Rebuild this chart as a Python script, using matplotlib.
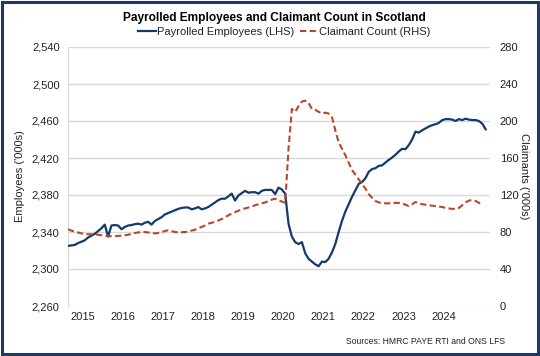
import numpy as np
import matplotlib
matplotlib.use('Agg')
import matplotlib.pyplot as plt
from matplotlib.lines import Line2D
from matplotlib.patches import Rectangle

plt.rcParams['font.family'] = ['Liberation Sans', 'DejaVu Sans']

# =====================================================================
# DATA (monthly, from Jul 2014)
# =====================================================================
# Payrolled employees, Scotland ('000s), LHS
employees = [
    2325, 2325.5, 2326, 2328, 2329.5, 2331, 2334, 2336, 2338, 2341,
    2344, 2348, 2335, 2347, 2347.5, 2347, 2343, 2345.5, 2347, 2347.5,
    2348.5, 2349, 2348, 2350, 2351, 2348, 2352, 2354, 2356, 2359,
    2360.5, 2362, 2363.5, 2365, 2366, 2366.5, 2366.5, 2364.5, 2365.5, 2367,
    2364.5, 2365.5, 2367, 2369.5, 2372, 2374.5, 2376, 2376, 2378.5, 2381.5,
    2374, 2379.5, 2382, 2384.5, 2382.5, 2383, 2383, 2381.5, 2384.5, 2385.5,
    2385.5, 2385.5, 2381, 2388, 2386, 2381.5, 2349, 2335, 2329, 2327,
    2329, 2317, 2311, 2308, 2305, 2303, 2308, 2307.5, 2311, 2318,
    2327, 2340, 2352, 2362, 2370, 2378, 2385, 2392, 2394, 2398,
    2405, 2408, 2409, 2411.5, 2412, 2415, 2418, 2420.5, 2423.5, 2427,
    2430, 2429.5, 2434, 2440, 2448.5, 2447.5, 2450, 2452, 2454, 2455.5,
    2456.5, 2458, 2461, 2462, 2462, 2461.5, 2460, 2462, 2461, 2462.5,
    2461.5, 2461, 2461, 2460, 2457, 2451,
]

# Claimant count, Scotland ('000s), RHS
claimants = [
    83, 81.5, 80.5, 79.5, 78.5, 78, 77.5, 77.5, 77.5, 77,
    76.5, 76, 75.5, 75.5, 75.5, 75.8, 76, 76.5, 77, 78,
    79, 79.5, 80, 80, 79.5, 79, 78.5, 79, 80, 81,
    82, 81, 80, 79.8, 79.8, 80, 80.5, 81.5, 82.5, 84,
    85.5, 87, 89, 90, 91, 92.5, 94, 96, 98, 100,
    101.5, 103, 104.5, 105.5, 106.5, 107.5, 109, 110, 111, 112,
    113.5, 115, 116, 114, 113, 111.5, 170, 213, 210, 216,
    221, 222, 219.5, 213, 212, 210, 208, 209, 208, 204,
    190, 177, 170, 163, 155, 147, 142, 137, 132, 127,
    121, 117, 113.5, 112, 111, 111, 111, 111, 111.5, 111.5,
    111, 109.5, 108, 110, 112.5, 111, 110, 109.5, 109, 108.5,
    108, 107.5, 107, 106, 105.5, 105, 105, 106, 109, 112,
    114, 114.5, 113.5, 111.5, 109,
]

years = ['2015', '2016', '2017', '2018', '2019', '2020', '2021', '2022', '2023', '2024']

# =====================================================================
# PLOT
# =====================================================================
navy = '#123A6B'
rust = '#B8462B'
grid_c = '#D9D9D9'
txt_c = '#222222'

fig = plt.figure(figsize=(5.4, 3.56), dpi=100, facecolor='white')
ax = fig.add_axes([68 / 540, 1 - 306 / 356, 422 / 540, 259 / 356])
ax2 = ax.twinx()

x_emp = np.arange(len(employees))
x_cc = np.arange(len(claimants))

ax.plot(x_emp, employees, '-', color=navy, linewidth=1.6, zorder=3)
ax2.plot(x_cc, claimants, '--', color=rust, linewidth=1.5, dashes=(3, 1.6), zorder=3)

ax.set_xlim(0, 126.3)
ax.set_ylim(2260, 2540)
ax2.set_ylim(0, 280)
ax.set_yticks(np.arange(2260, 2541, 40))
ax2.set_yticks(np.arange(0, 281, 40))
ax.set_yticklabels([f'{v:,}' for v in range(2260, 2541, 40)])

ax.set_xticks([4.4 + 12 * i for i in range(len(years))])
ax.set_xticklabels(years)

ax.grid(axis='y', color=grid_c, linewidth=1.0)
ax.set_axisbelow(True)
for s in ['top', 'right', 'bottom']:
    ax.spines[s].set_visible(False)
    ax2.spines[s].set_visible(False)
ax2.spines['left'].set_visible(False)
ax.spines['left'].set_color(grid_c)

ax.tick_params(axis='both', length=0, labelsize=8, colors=txt_c, pad=6)
ax.tick_params(axis='x', pad=4)
ax2.tick_params(axis='y', length=0, labelsize=8, colors=txt_c, pad=7)

ax.set_ylabel("Employees ('000s)", fontsize=8, color=txt_c, ha='center', va='center')
ax.yaxis.set_label_coords((20 - 68) / 422, 0.5)
ax2.set_ylabel("Claimants ('000s)", fontsize=8, color=txt_c, rotation=270,
               ha='center', va='center')
ax2.yaxis.set_label_coords((524 - 68) / 422, 0.5)

fig.text(274 / 540, 1 - 18 / 356, 'Payrolled Employees and Claimant Count in Scotland',
         ha='center', va='center', fontsize=8.6, fontweight='bold', color='black')

handles = [Line2D([0], [0], color=navy, linewidth=1.6),
           Line2D([0], [0], color=rust, linewidth=1.5, linestyle='--', dashes=(3, 1.6))]
fig.legend(handles, ['Payrolled Employees (LHS)', 'Claimant Count (RHS)'],
           loc='center', bbox_to_anchor=(284 / 540, 1 - 32 / 356), ncol=2, frameon=False,
           fontsize=8, handlelength=1.6, handletextpad=0.1, columnspacing=0.5,
           labelcolor=txt_c)

fig.text(505 / 540, 1 - 342 / 356, 'Sources: HMRC PAYE RTI and ONS LFS',
         ha='right', va='center', fontsize=6.2, color=txt_c)

# frame around the figure
fig.patches.append(Rectangle((0.004, 0.005), 0.992, 0.99, transform=fig.transFigure,
                             fill=False, edgecolor='#1F3864', linewidth=2.2))

fig.savefig('out.png', dpi=100, facecolor='white')
plt.close(fig)
